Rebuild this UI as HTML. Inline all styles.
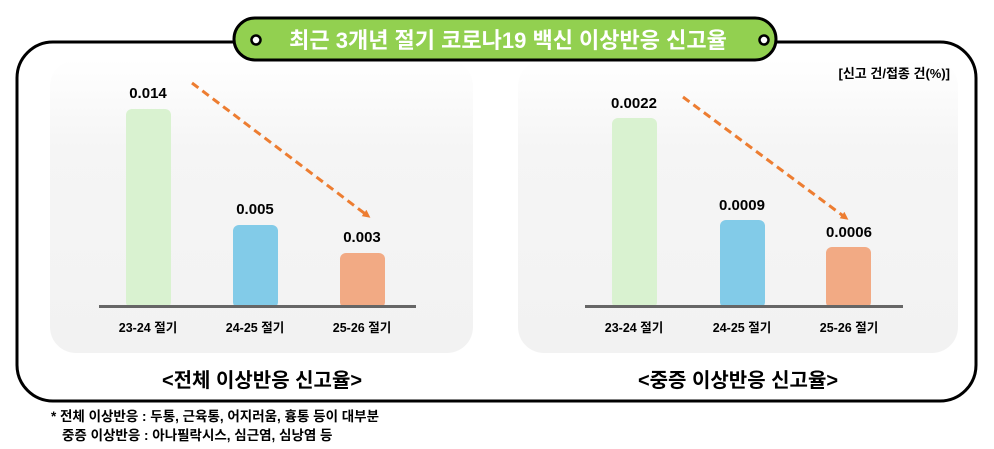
<!DOCTYPE html>
<html><head><meta charset="utf-8"><style>
body{margin:0;width:994px;height:449px;background:#fff;overflow:hidden;font-family:"Liberation Sans","Noto Sans CJK KR",sans-serif;}
</style></head><body>
<svg width="994" height="449" xmlns="http://www.w3.org/2000/svg" style="position:absolute;left:0;top:0" font-family="Liberation Sans, Noto Sans CJK KR, sans-serif">
<defs><linearGradient id="g" x1="0" y1="0" x2="0" y2="1"><stop offset="0" stop-color="#fff"/><stop offset="0.3" stop-color="#f5f5f5"/><stop offset="1" stop-color="#f2f2f2"/></linearGradient>
<marker id="ar" markerWidth="8" markerHeight="8" refX="5" refY="4" orient="auto" markerUnits="userSpaceOnUse"><path d="M0,0 L8,4 L0,8 z" fill="#ed7d31"/></marker></defs>
<rect x="17" y="42" width="959" height="359" rx="36" fill="#fff" stroke="#000" stroke-width="3"/>
<rect x="50" y="60" width="423" height="293" rx="26" fill="url(#g)"/>
<rect x="518" y="60" width="440" height="293" rx="26" fill="url(#g)"/>
<rect x="234" y="18" width="542" height="42" rx="21" fill="#92d050" stroke="#000" stroke-width="3"/>
<circle cx="256" cy="40" r="4.5" fill="#fff" stroke="#000" stroke-width="2.5"/>
<circle cx="764" cy="40" r="4.5" fill="#fff" stroke="#000" stroke-width="2.5"/>
<text x="508" y="48" text-anchor="middle" font-size="22" font-weight="bold" fill="#fff">최근 3개년 절기 코로나19 백신 이상반응 신고율</text>
<text x="950" y="78" text-anchor="end" font-size="13" font-weight="bold" fill="#000">[신고 건/접종 건(%)]</text>
<g>
<rect x="126" y="109" width="45" height="199" rx="6" fill="#d9f2d0"/>
<rect x="233" y="225" width="45" height="83" rx="6" fill="#82cbe8"/>
<rect x="340" y="253" width="45" height="55" rx="6" fill="#f2aa84"/>
<line x1="99" y1="306.5" x2="416" y2="306.5" stroke="#666" stroke-width="3"/>
<text x="148" y="98" text-anchor="middle" font-size="15" font-weight="bold">0.014</text>
<text x="255" y="214" text-anchor="middle" font-size="15" font-weight="bold">0.005</text>
<text x="362" y="242" text-anchor="middle" font-size="15" font-weight="bold">0.003</text>
<text x="148" y="332" text-anchor="middle" font-size="12.5" font-weight="bold">23-24 절기</text>
<text x="255" y="332" text-anchor="middle" font-size="12.5" font-weight="bold">24-25 절기</text>
<text x="362" y="332" text-anchor="middle" font-size="12.5" font-weight="bold">25-26 절기</text>
<line x1="192" y1="83" x2="368" y2="216" stroke="#ed7d31" stroke-width="3" stroke-dasharray="8,5" marker-end="url(#ar)"/>
<text x="262" y="387" text-anchor="middle" font-size="20" font-weight="bold">&lt;전체 이상반응 신고율&gt;</text>
</g>
<g>
<rect x="612" y="118" width="45" height="190" rx="6" fill="#d9f2d0"/>
<rect x="720" y="220" width="45" height="88" rx="6" fill="#82cbe8"/>
<rect x="826" y="247" width="45" height="61" rx="6" fill="#f2aa84"/>
<line x1="585" y1="306.5" x2="903" y2="306.5" stroke="#666" stroke-width="3"/>
<text x="634" y="108" text-anchor="middle" font-size="15" font-weight="bold">0.0022</text>
<text x="742" y="210" text-anchor="middle" font-size="15" font-weight="bold">0.0009</text>
<text x="849" y="237" text-anchor="middle" font-size="15" font-weight="bold">0.0006</text>
<text x="634" y="332" text-anchor="middle" font-size="12.5" font-weight="bold">23-24 절기</text>
<text x="742" y="332" text-anchor="middle" font-size="12.5" font-weight="bold">24-25 절기</text>
<text x="849" y="332" text-anchor="middle" font-size="12.5" font-weight="bold">25-26 절기</text>
<line x1="683" y1="97" x2="846" y2="218" stroke="#ed7d31" stroke-width="3" stroke-dasharray="8,5" marker-end="url(#ar)"/>
<text x="738" y="387" text-anchor="middle" font-size="20" font-weight="bold">&lt;중증 이상반응 신고율&gt;</text>
</g>
<text x="51" y="421" font-size="13.5" font-weight="bold">* 전체 이상반응 : 두통, 근육통, 어지러움, 흉통 등이 대부분</text>
<text x="62" y="440" font-size="13.5" font-weight="bold">중증 이상반응 : 아나필락시스, 심근염, 심낭염 등</text>
</svg>
</body></html>
